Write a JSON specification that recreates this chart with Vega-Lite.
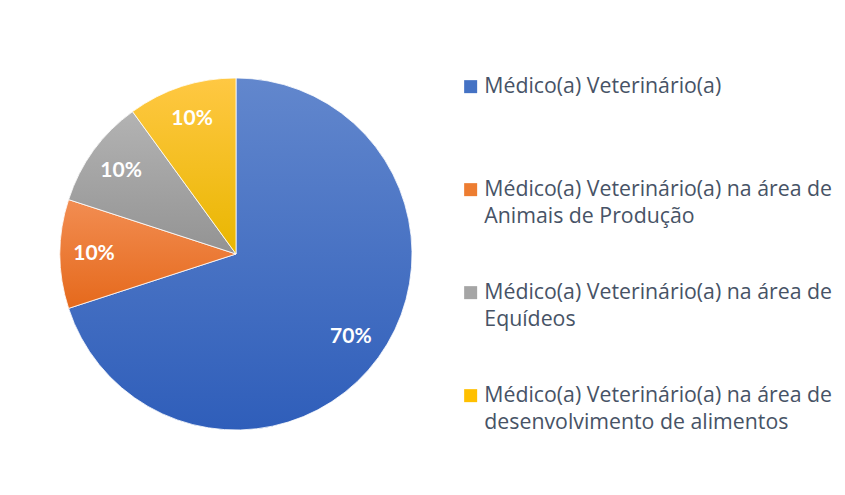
{
  "$schema": "https://vega.github.io/schema/vega-lite/v6.json",
  "width": 352,
  "height": 352,
  "padding": {"left": 58, "top": 76, "right": 10, "bottom": 30},
  "background": "white",
  "data": {
    "values": [
      {"categoria": "Médico(a) Veterinário(a)", "percentual": 0.7},
      {"categoria": "Médico(a) Veterinário(a) na área de Animais de Produção", "percentual": 0.1},
      {"categoria": "Médico(a) Veterinário(a) na área de Equídeos", "percentual": 0.1},
      {"categoria": "Médico(a) Veterinário(a) na área de desenvolvimento de alimentos", "percentual": 0.1}
    ]
  },
  "transform": [
    {"stack": "percentual", "groupby": [], "sort": [{"field": "categoria", "order": "ascending"}], "as": ["ini", "fim"]}
  ],
  "encoding": {
    "theta": {"field": "ini", "type": "quantitative", "scale": {"domain": [0, 1]}},
    "theta2": {"field": "fim"}
  },
  "layer": [
    {
      "mark": {"type": "arc", "outerRadius": 176, "stroke": "white", "strokeWidth": 0.8},
      "encoding": {
        "color": {
          "field": "categoria",
          "type": "nominal",
          "scale": {
            "domain": [
              "Médico(a) Veterinário(a)",
              "Médico(a) Veterinário(a) na área de Animais de Produção",
              "Médico(a) Veterinário(a) na área de Equídeos",
              "Médico(a) Veterinário(a) na área de desenvolvimento de alimentos"
            ],
            "range": ["#4472c4", "#ed7d31", "#a5a5a5", "#ffc000"]
          },
          "legend": {
            "title": null,
            "orient": "none",
            "legendX": 400,
            "legendY": -2,
            "padding": 0,
            "symbolType": "square",
            "symbolSize": 169,
            "symbolStrokeWidth": 0,
            "labelFont": "Open Sans",
            "labelFontSize": 21.3,
            "labelColor": "#475366",
            "labelLimit": 500,
            "labelOffset": 3,
            "gridAlign": "all",
            "rowPadding": 54,
            "labelExpr": "split(replace(datum.label, 'área de ', 'área de|'), '|')"
          }
        }
      }
    },
    {
      "transform": [{"filter": "datum.categoria == 'Médico(a) Veterinário(a)'"}],
      "mark": {"type": "arc", "outerRadius": 176, "stroke": "white", "strokeWidth": 0.8,
        "fill": {"gradient": "linear", "x1": 0, "y1": 0, "x2": 0, "y2": 1, "stops": [{"offset": 0, "color": "#6287cd"}, {"offset": 1, "color": "#2f5eba"}]}}
    },
    {
      "transform": [{"filter": "datum.categoria == 'Médico(a) Veterinário(a) na área de Animais de Produção'"}],
      "mark": {"type": "arc", "outerRadius": 176, "stroke": "white", "strokeWidth": 0.8,
        "fill": {"gradient": "linear", "x1": 0, "y1": 0, "x2": 0, "y2": 1, "stops": [{"offset": 0, "color": "#f28d52"}, {"offset": 1, "color": "#e5691c"}]}}
    },
    {
      "transform": [{"filter": "datum.categoria == 'Médico(a) Veterinário(a) na área de Equídeos'"}],
      "mark": {"type": "arc", "outerRadius": 176, "stroke": "white", "strokeWidth": 0.8,
        "fill": {"gradient": "linear", "x1": 0, "y1": 0, "x2": 0, "y2": 1, "stops": [{"offset": 0, "color": "#b3b3b3"}, {"offset": 1, "color": "#939393"}]}}
    },
    {
      "transform": [{"filter": "datum.categoria == 'Médico(a) Veterinário(a) na área de desenvolvimento de alimentos'"}],
      "mark": {"type": "arc", "outerRadius": 176, "stroke": "white", "strokeWidth": 0.8,
        "fill": {"gradient": "linear", "x1": 0, "y1": 0, "x2": 0, "y2": 1, "stops": [{"offset": 0, "color": "#ffc843"}, {"offset": 1, "color": "#e9b600"}]}}
    },
    {
      "mark": {"type": "text", "radius": 142, "font": "Lato", "fontSize": 21, "fontWeight": "bold", "color": "white"},
      "encoding": {
        "theta": {"field": "percentual", "type": "quantitative", "stack": true},
        "theta2": null,
        "order": {"field": "categoria", "sort": "ascending"},
        "detail": {"field": "categoria", "type": "nominal"},
        "text": {"field": "percentual", "type": "quantitative", "format": ".0%"}
      }
    }
  ],
  "config": {
    "view": {"stroke": null},
    "style": {"guide-label": {"lineHeight": 27}}
  }
}
